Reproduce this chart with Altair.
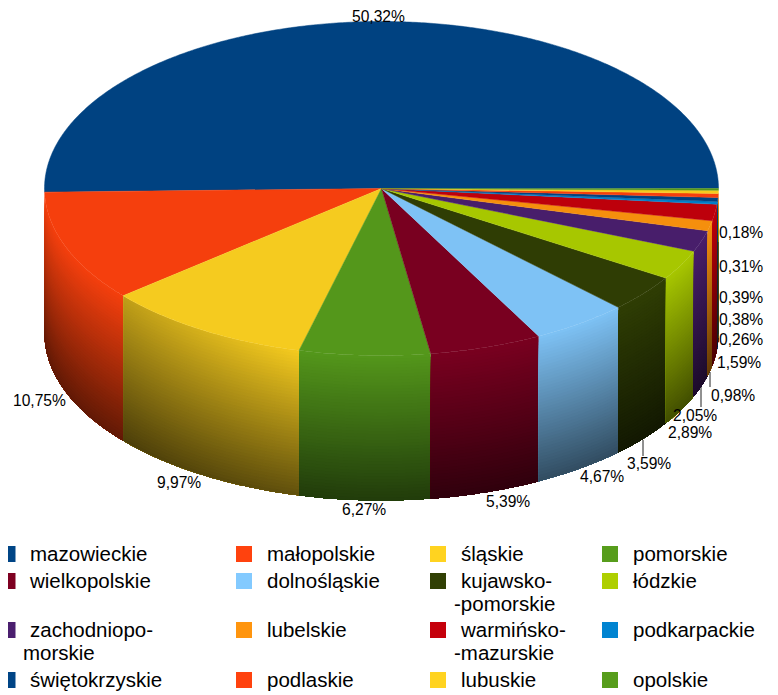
import math
import altair as alt
import pandas as pd

# ---- data
regions = ["mazowieckie", "małopolskie", "śląskie", "pomorskie", "wielkopolskie", "dolnośląskie",
           "kujawsko-pomorskie", "łódzkie", "zachodniopomorskie", "lubelskie", "warmińsko-mazurskie",
           "podkarpackie", "świętokrzyskie", "podlaskie", "lubuskie", "opolskie"]
shares = [50.32, 10.75, 9.97, 6.27, 5.39, 4.67, 3.59, 2.89, 2.05, 0.98, 1.59, 0.26, 0.38, 0.39, 0.31, 0.18]
share_labels = ["50,32%", "10,75%", "9,97%", "6,27%", "5,39%", "4,67%", "3,59%", "2,89%",
                "2,05%", "0,98%", "1,59%", "0,26%", "0,38%", "0,39%", "0,31%", "0,18%"]
colors = ["#004586", "#ff420e", "#ffd320", "#579d1c", "#7e0021", "#83caff", "#314004", "#aecf00",
          "#4b1f6f", "#ff950e", "#c5000b", "#0084d1", "#004586", "#ff420e", "#ffd320", "#579d1c"]
legend_lines = [["mazowieckie"], ["małopolskie"], ["śląskie"], ["pomorskie"],
                ["wielkopolskie"], ["dolnośląskie"], ["kujawsko-", "-pomorskie"], ["łódzkie"],
                ["zachodniopo-", "morskie"], ["lubelskie"], ["warmińsko-", "-mazurskie"], ["podkarpackie"],
                ["świętokrzyskie"], ["podlaskie"], ["lubuskie"], ["opolskie"]]

# ---- layout (page pixels)
CX, CY, RX, RY, DEPTH = 381.5, 188.5, 337.0, 167.0, 145.0
START = 0.1
W, H = 762, 687
label_x = [352, 13, 157, 342, 486, 580, 627, 668, 673, 711, 717, 719, 719, 719, 719, 719]
label_y = [16.5, 401, 483, 510, 502, 477, 464, 433, 416, 396, 363, 340, 320, 298, 267, 233]
leader_x = [718, 710, 701, 643]
leader_y1 = [242, 372, 387, 440]
leader_y2 = [340, 387, 407, 456]
col_sq = [7.5, 244, 438, 610]
col_tx = [30, 267, 461, 633]
col_wrap = [23, 267, 454, 633]
row_base = [561, 588, 637, 687]
row_sq = [554, 581, 630, 680]
LINE = 23

xs = alt.Scale(domain=[8, 8 + W], range=[0, W], nice=False, zero=False)
ys = alt.Scale(domain=[8, 8 + H], range=[0, H], nice=False, zero=False)
X = lambda f: alt.X(f, type="quantitative", scale=xs, axis=None)
Y = lambda f: alt.Y(f, type="quantitative", scale=ys, axis=None)


def shade(hexcol, f):
    r, g, b = (int(hexcol[i:i + 2], 16) for i in (1, 3, 5))
    return "#%02x%02x%02x" % (round(r * f), round(g * f), round(b * f))


def px(a):
    t = math.radians(a)
    return CX + RX * math.cos(t), CY - RY * math.sin(t)


# angles come from the shares
edges = [START]
for s in shares:
    edges.append(edges[-1] + s / 100 * 360)

tops, walls = [], []
BANDS = 48
for i, (name, col) in enumerate(zip(regions, colors)):
    a0, a1 = edges[i], edges[i + 1]
    n = max(2, int((a1 - a0) * 2))
    tops.append({"s": i, "o": -1, "x": CX, "y": CY, "c": shade(col, 0.96)})
    for k in range(n + 1):
        x, y = px(a0 + (a1 - a0) * k / n)
        tops.append({"s": i, "o": k, "x": x, "y": y, "c": shade(col, 0.96)})
    if i == 0:
        continue
    for b in range(BANDS):
        f = 0.96 - (0.96 - 0.38) * (b + 0.5) / BANDS
        for k in range(n + 1):
            a = a0 + (a1 - a0) * k / n
            if a < 180:
                continue
            x, y = px(a)
            walls.append({"d": i * 1000 + b, "x": x,
                          "y": y + DEPTH * b / BANDS,
                          "y2": y + DEPTH,
                          "c": shade(col, f)})

wall_layer = alt.Chart(pd.DataFrame(walls)).mark_area(interpolate="linear", strokeWidth=0).encode(
    x=X("x"), y=Y("y"), y2=alt.Y2("y2"),
    fill=alt.Fill("c:N", scale=None), detail="d:Q")

# sideways shading on the yellow wall
i = 2
over = pd.DataFrame([{"x": px(edges[i] + (edges[i + 1] - edges[i]) * k / 40)[0],
                      "y": px(edges[i] + (edges[i + 1] - edges[i]) * k / 40)[1],
                      "y2": px(edges[i] + (edges[i + 1] - edges[i]) * k / 40)[1] + DEPTH} for k in range(41)])
over_layer = alt.Chart(over).mark_area(
    color=alt.Gradient(gradient="linear", x1=0, x2=1, y1=0, y2=0,
                       stops=[alt.GradientStop(color="rgba(0,0,0,0.22)", offset=0),
                              alt.GradientStop(color="rgba(0,0,0,0)", offset=1)])
).encode(x=X("x"), y=Y("y"), y2=alt.Y2("y2"))

top_layer = alt.Chart(pd.DataFrame(tops)).mark_line(strokeWidth=0.5).encode(
    x=X("x"), y=Y("y"), order="o:Q", detail="s:N",
    fill=alt.Fill("c:N", scale=None), stroke=alt.Stroke("c:N", scale=None))

leaders = pd.DataFrame({"x": leader_x, "y": leader_y1, "y2": leader_y2})
leader_layer = alt.Chart(leaders).mark_rule(color="#222222", strokeWidth=1).encode(
    x=X("x"), y=Y("y"), y2=alt.Y2("y2"))

pct = pd.DataFrame({"x": label_x, "y": label_y, "t": share_labels})
pct_layer = alt.Chart(pct).mark_text(align="left", baseline="middle", font="Liberation Sans",
                                     fontSize=15.6, color="#000000").encode(
    x=X("x"), y=Y("y"), text="t:N")

sq, tx = [], []
for i, lines in enumerate(legend_lines):
    c, r = i % 4, i // 4
    sq.append({"x": col_sq[c], "y": row_sq[r], "c": colors[i]})
    for j, line in enumerate(lines):
        tx.append({"x": col_tx[c] if j == 0 else col_wrap[c], "y": row_base[r] + j * LINE, "t": line})

sq_layer = alt.Chart(pd.DataFrame(sq)).mark_square(size=256, opacity=1).encode(
    x=X("x"), y=Y("y"), fill=alt.Fill("c:N", scale=None), stroke=alt.value(None))
tx_layer = alt.Chart(pd.DataFrame(tx)).mark_text(align="left", baseline="alphabetic", font="Liberation Sans",
                                                 fontSize=20.5, color="#000000").encode(
    x=X("x"), y=Y("y"), text="t:N")

chart = alt.layer(wall_layer, over_layer, top_layer, leader_layer, pct_layer, sq_layer, tx_layer).properties(
    width=W, height=H, padding=0, autosize=alt.AutoSizeParams(type="none")
).configure_view(stroke=None)

chart.save("out.html", embed_options={"renderer": "svg", "actions": False})
